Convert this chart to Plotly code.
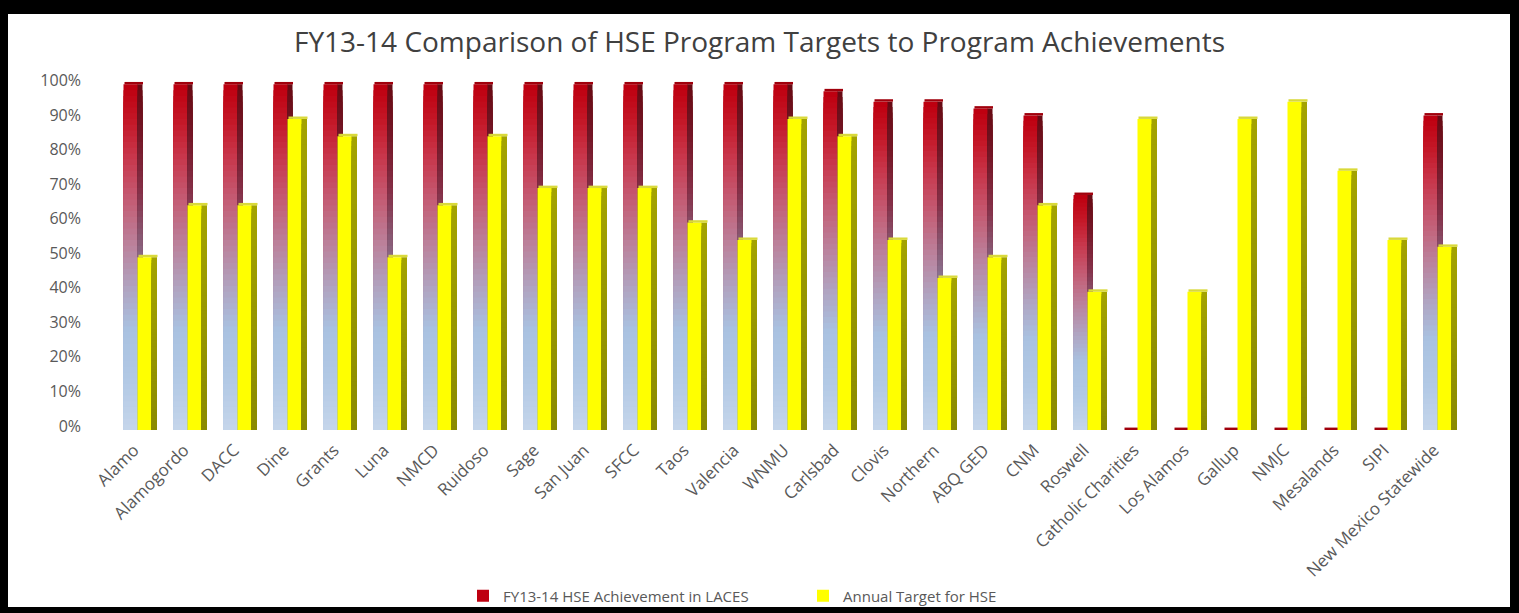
import plotly.graph_objects as go

categories = ["Alamo", "Alamogordo", "DACC", "Dine", "Grants", "Luna", "NMCD", "Ruidoso",
              "Sage", "San Juan", "SFCC", "Taos", "Valencia", "WNMU", "Carlsbad", "Clovis",
              "Northern", "ABQ GED", "CNM", "Roswell", "Catholic Charities", "Los Alamos",
              "Gallup", "NMJC", "Mesalands", "SIPI", "New Mexico Statewide"]
achievement = [1.00, 1.00, 1.00, 1.00, 1.00, 1.00, 1.00, 1.00, 1.00, 1.00, 1.00, 1.00, 1.00, 1.00,
               0.98, 0.95, 0.95, 0.93, 0.91, 0.68, 0.0, 0.0, 0.0, 0.0, 0.0, 0.0, 0.91]
target = [0.50, 0.65, 0.65, 0.90, 0.85, 0.50, 0.65, 0.85, 0.70, 0.70, 0.70, 0.60, 0.55, 0.90,
          0.85, 0.55, 0.44, 0.50, 0.65, 0.40, 0.90, 0.40, 0.90, 0.95, 0.75, 0.55, 0.53]
y_ticks = [0, 0.1, 0.2, 0.3, 0.4, 0.5, 0.6, 0.7, 0.8, 0.9, 1.0]
series_names = ["FY13-14 HSE Achievement in LACES", "Annual Target for HSE"]
title_text = "FY13-14 Comparison of HSE Program Targets to Program Achievements"

FONT = "Open Sans"
GRAY = "#595959"

# ---- styling helpers -------------------------------------------------------
def hex2rgb(h):
    h = h.lstrip("#")
    return tuple(int(h[i:i + 2], 16) for i in (0, 2, 4))

def interp(stops, f):
    for (f0, c0), (f1, c1) in zip(stops, stops[1:]):
        if f <= f1:
            t = 0 if f1 == f0 else (f - f0) / (f1 - f0)
            a, b = hex2rgb(c0), hex2rgb(c1)
            return "rgb(%d,%d,%d)" % tuple(round(a[i] + (b[i] - a[i]) * t) for i in range(3))
    return stops[-1][1]

FRONT_STOPS = [(0.0, "#c6d6eb"), (0.15, "#b2c9e5"), (0.30, "#a9c1e0"), (0.42, "#b0a3c0"),
               (0.55, "#bb809a"), (0.68, "#c45a72"), (0.80, "#c8364b"), (0.90, "#c41828"),
               (1.0, "#be0010")]
SIDE_STOPS = [(0.0, "#9fb2ca"), (0.30, "#90a4c0"), (0.50, "#8a6c88"), (0.70, "#853048"),
              (0.85, "#761828"), (1.0, "#680a14")]
YSIDE_STOPS = [(0.0, "#8a8a00"), (1.0, "#a3a300")]

N = 60

def gradient_points(values, stops):
    xs, ys, cs = [], [], []
    for k in range(N, 0, -1):
        f = k / N
        c = interp(stops, f)
        for cat, v in zip(categories, values):
            xs.append(cat)
            ys.append(v * f)
            cs.append(c)
    return xs, ys, cs

# geometry in category units (1 category = 50 px)
RF_OFF, RF_W = -0.33, 0.29
RS_OFF, RS_W = -0.05, 0.10
YF_OFF, YF_W = -0.05, 0.29
YS_OFF, YS_W = 0.23, 0.11
CAP_H = 0.007

fig = go.Figure()

# red bar – front face (gradient)
xs, ys, cs = gradient_points(achievement, FRONT_STOPS)
fig.add_trace(go.Bar(x=xs, y=ys, marker=dict(color=cs, line=dict(width=0)),
                     offset=RF_OFF, width=RF_W, name=series_names[0],
                     showlegend=True, legendrank=1, hoverinfo="skip"))
# red bar – side face
xs, ys, cs = gradient_points(achievement, SIDE_STOPS)
fig.add_trace(go.Bar(x=xs, y=ys, marker=dict(color=cs, line=dict(width=0)),
                     offset=RS_OFF, width=RS_W, showlegend=False, hoverinfo="skip"))
# red bar – top cap
fig.add_trace(go.Bar(x=categories, y=[CAP_H] * len(categories), base=achievement,
                     marker=dict(color="#a0000c", line=dict(width=0)),
                     offset=RF_OFF + 0.02, width=RF_W + RS_W - 0.02,
                     showlegend=False, hoverinfo="skip"))

# yellow bar – front
fig.add_trace(go.Bar(x=categories, y=target, marker=dict(color="#ffff00", line=dict(width=0)),
                     offset=YF_OFF, width=YF_W, name=series_names[1],
                     showlegend=True, legendrank=2))
# yellow bar – side
xs, ys, cs = gradient_points(target, YSIDE_STOPS)
fig.add_trace(go.Bar(x=xs, y=ys, marker=dict(color=cs, line=dict(width=0)),
                     offset=YS_OFF, width=YS_W, showlegend=False, hoverinfo="skip"))
# yellow bar – top cap
fig.add_trace(go.Bar(x=categories, y=[CAP_H] * len(categories), base=target,
                     marker=dict(color="#d9d93a", line=dict(width=0)),
                     offset=YF_OFF + 0.02, width=YF_W + YS_W - 0.02,
                     showlegend=False, hoverinfo="skip"))

# ---- layout ----------------------------------------------------------------
W, H = 1519, 613
ML, MR, MT, MB = 115, 54, 74, 183
PW, PH = W - ML - MR, H - MT - MB

def px_x(px):
    return (px - ML) / PW

def px_y(py):
    return (H - MB - py) / PH

border = []
for (x0, x1, y0, y1) in [(0, 8, 0, H), (0, W, 0, 14), (1510, W, 0, H), (0, W, 607, H)]:
    border.append(dict(type="rect", xref="paper", yref="paper",
                       x0=px_x(x0), x1=px_x(x1), y0=px_y(y1), y1=px_y(y0),
                       fillcolor="black", line=dict(width=0), layer="above"))

fig.update_layout(
    width=W, height=H,
    margin=dict(l=ML, r=MR, t=MT, b=MB, autoexpand=False),
    barmode="overlay",
    paper_bgcolor="white", plot_bgcolor="white",
    font=dict(family=FONT, color=GRAY, size=14),
    title=dict(text=title_text, x=0.5, xref="container", xanchor="center",
               y=1 - 42 / H, yref="container", yanchor="middle",
               font=dict(family=FONT, size=28, color="#404040")),
    xaxis=dict(type="category", categoryorder="array", categoryarray=categories,
               range=[-0.5, len(categories) - 0.5], showgrid=False, showline=False,
               zeroline=False, ticks="", tickangle=-45, ticklabelstandoff=6,
               ticklabelshift=-6,
               tickfont=dict(family=FONT, size=17, color=GRAY)),
    yaxis=dict(range=[0, 1.03], tickvals=y_ticks, tickformat=".0%", showgrid=False,
               showline=False, zeroline=False, ticks="", ticklabelstandoff=33,
               ticklabelshift=-4, tickfont=dict(family=FONT, size=16, color=GRAY)),
    legend=dict(orientation="h", x=px_x(463), xanchor="left", y=px_y(596), yanchor="middle",
                bgcolor="rgba(0,0,0,0)",
                font=dict(family=FONT, size=15, color=GRAY),
                entrywidth=295, entrywidthmode="pixels", traceorder="normal"),
    shapes=border,
    showlegend=True,
)

fig.write_html("out.html", config={"displayModeBar": False},
               post_script="document.body.style.margin='0';document.body.style.overflow='hidden';")
